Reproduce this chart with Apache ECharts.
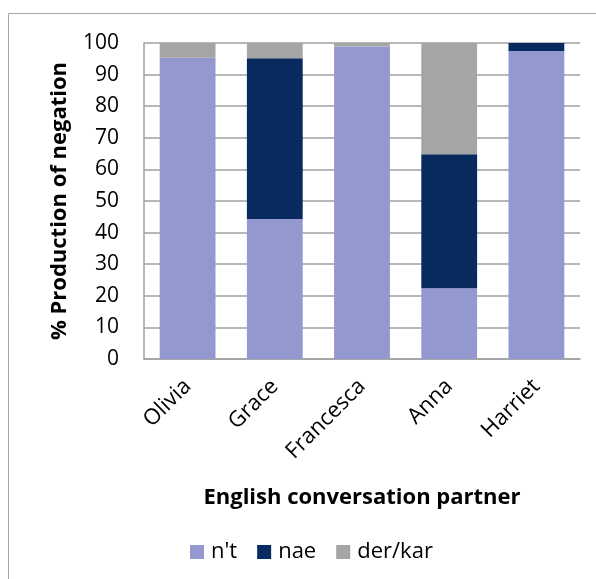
<!DOCTYPE html>
<html><head><meta charset="utf-8">
<script src="https://cdn.jsdelivr.net/npm/echarts@6/dist/echarts.min.js"></script>
<style>html,body{margin:0;padding:0;background:#fff}#c{width:596px;height:579px}</style>
</head><body><div id="c"></div>
<script>
const categories = ["Olivia", "Grace", "Francesca", "Anna", "Harriet"];
const ntValues = [95.3, 44.3, 98.9, 22.4, 97.5];
const naeValues = [0, 50.9, 0, 42.4, 2.5];
const derKarValues = [4.7, 4.8, 1.1, 35.2, 0];
const yTicks = [0, 10, 20, 30, 40, 50, 60, 70, 80, 90, 100];

const FONT = "Open Sans";
const chart = echarts.init(document.getElementById('c'));
chart.setOption({
  animation: false,
  textStyle: { fontFamily: FONT },
  graphic: [{ type: 'rect', shape: { x: 8.5, y: 13.5, width: 700, height: 700 }, style: { fill: 'none', stroke: '#a6a6a6', lineWidth: 1 } }],
  grid: { left: 144, right: 16, top: 43, bottom: 220 },
  legend: {
    left: 185, top: 536, itemWidth: 14, itemHeight: 14, itemGap: 20,
    icon: 'rect',
    textStyle: { fontSize: 22, color: '#000', fontFamily: FONT, padding: [0, 0, 0, 2] },
    data: ["n't", "nae", "der/kar"]
  },
  xAxis: {
    type: 'category', data: categories,
    name: 'English conversation partner', nameLocation: 'middle', nameGap: 128,
    nameTextStyle: { fontSize: 22, fontWeight: 'bold', color: '#000', fontFamily: FONT },
    axisLine: { lineStyle: { color: '#a0a0a0', width: 1.5 } },
    axisTick: { show: false },
    axisLabel: { rotate: 45, fontSize: 22, color: '#000', margin: 24, fontFamily: FONT }
  },
  yAxis: {
    type: 'value', min: 0, max: 100, interval: 10,
    name: '% Production of negation', nameLocation: 'middle', nameGap: 73,
    nameTextStyle: { fontSize: 22, fontWeight: 'bold', color: '#000', fontFamily: FONT },
    axisLine: { show: true, lineStyle: { color: '#a0a0a0', width: 1.5 } },
    axisTick: { show: false },
    axisLabel: { fontSize: 21, color: '#000', margin: 25, fontFamily: FONT,
      formatter: v => yTicks.includes(v) ? String(v) : '' },
    splitLine: { lineStyle: { color: '#a0a0a0', width: 1.5 } }
  },
  series: [
    { name: "n't", type: 'bar', stack: 's', data: ntValues, barWidth: '64%', itemStyle: { color: '#9399cf' } },
    { name: "nae", type: 'bar', stack: 's', data: naeValues, itemStyle: { color: '#082a5f' } },
    { name: "der/kar", type: 'bar', stack: 's', data: derKarValues, itemStyle: { color: '#a5a5a5' } }
  ]
});
</script></body></html>
